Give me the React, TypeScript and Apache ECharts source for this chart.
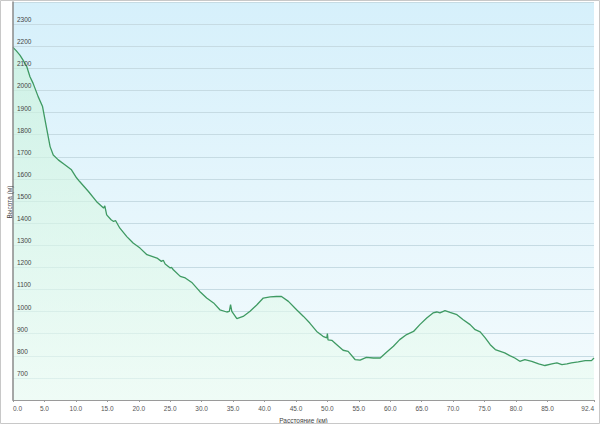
import React, { useEffect, useRef } from "react";
import * as echarts from "echarts";

const distanceKm = [
  0, 0.5, 1.1, 1.6, 2.2, 2.7, 3.2, 4.0, 4.7, 5.1, 5.5, 5.9, 6.4, 7.2, 8.3, 9.3, 10.1, 10.6, 12.0, 13.3,
  14.4, 14.6, 14.9, 15.6, 16.0, 16.3, 17.0, 18.1, 19.1, 20.2, 21.3, 22.9, 23.6, 23.9, 24.2, 25.0, 25.2,
  25.5, 26.6, 27.4, 28.5, 29.7, 30.8, 31.9, 32.9, 34.0, 34.4, 34.6, 34.8, 35.6, 36.6, 37.7, 38.8, 39.8,
  40.9, 41.9, 42.7, 43.8, 45.1, 46.2, 47.2, 48.3, 49.3, 49.9, 50.0, 50.1, 50.7, 51.5, 52.5, 53.3, 54.4,
  55.2, 56.2, 57.3, 58.4, 59.4, 60.5, 61.5, 62.6, 63.7, 64.7, 65.8, 66.8, 67.4, 67.9, 68.7, 69.5, 70.6,
  71.6, 72.7, 73.5, 74.3, 75.1, 75.9, 76.7, 77.5, 78.2, 79.0, 79.8, 80.6, 81.4, 82.5, 83.6, 84.6, 85.7,
  86.5, 87.3, 88.1, 88.8, 89.9, 91.0, 92.0, 92.4,
];

const elevationM = [
  2195, 2180, 2160, 2137, 2107, 2062, 2032, 1972, 1927, 1866, 1806, 1746, 1708, 1686, 1663, 1641, 1605,
  1588, 1543, 1497, 1468, 1478, 1437, 1415, 1407, 1412, 1377, 1339, 1310, 1287, 1257, 1242, 1227, 1232,
  1215, 1197, 1200, 1189, 1159, 1152, 1130, 1091, 1061, 1039, 1008, 998, 1001, 1031, 1001, 968, 978,
  1001, 1031, 1061, 1066, 1068, 1068, 1046, 1008, 978, 948, 910, 888, 881, 900, 872, 870, 850, 825, 820,
  783, 780, 793, 790, 790, 816, 843, 873, 896, 910, 941, 971, 994, 998, 994, 1004, 996, 986, 963, 941,
  918, 908, 881, 850, 828, 820, 813, 801, 790, 775, 783, 775, 763, 756, 763, 768, 760, 763, 768, 772,
  778, 778, 790,
];

const xTickValues = [0, 5, 10, 15, 20, 25, 30, 35, 40, 45, 50, 55, 60, 65, 70, 75, 80, 85, 92.4];

const xAxisTitle = "Расстояние (км)";
const yAxisTitle = "Высота (м)";

export default function App() {
  const ref = useRef<HTMLDivElement>(null);

  useEffect(() => {
    document.body.style.margin = "0";
    const chart = echarts.init(ref.current!, null, { renderer: "svg" });
    const data = distanceKm.map((d, i) => [d, elevationM[i]]);
    const fontFamily = "Liberation Sans, Arial, sans-serif";
    const yCommon = {
      type: "value",
      min: 600,
      max: 2400,
      interval: 100,
      position: "left",
    };
    chart.setOption({
      animation: false,
      backgroundColor: "#ffffff",
      graphic: [
        {
          type: "rect",
          shape: { x: 0.5, y: 0.5, width: 599, height: 423 },
          style: { fill: "none", stroke: "#c8c8c8", lineWidth: 1 },
          z: 100,
        },
        {
          type: "text",
          x: 9,
          y: 202,
          rotation: Math.PI / 2,
          style: {
            text: yAxisTitle,
            fontSize: 6.5,
            fill: "#444",
            fontFamily,
            align: "center",
            verticalAlign: "middle",
          },
          z: 100,
        },
      ],
      grid: {
        left: 13,
        right: 6,
        top: 2,
        bottom: 24,
        containLabel: false,
        outerBoundsMode: "none",
        show: true,
        borderWidth: 0,
        backgroundColor: new echarts.graphic.LinearGradient(0, 0, 0, 1, [
          { offset: 0, color: "#d6f0fb" },
          { offset: 1, color: "#f4fbfd" },
        ]),
      },
      xAxis: {
        type: "value",
        min: 0,
        max: 92.4,
        interval: 5,
        name: xAxisTitle,
        nameLocation: "middle",
        nameGap: 13,
        nameTextStyle: { fontSize: 6.5, color: "#444", fontFamily },
        axisLine: { show: true, onZero: false, lineStyle: { color: "#9a9a9a", width: 1 } },
        axisTick: { show: true, length: 2, customValues: xTickValues, lineStyle: { color: "#9a9a9a" } },
        axisLabel: {
          customValues: xTickValues,
          fontSize: 6.5,
          color: "#555",
          fontFamily,
          margin: 5,
          alignMinLabel: "left",
          alignMaxLabel: "right",
          formatter: (v: number) => v.toFixed(1),
        },
        splitLine: { show: false },
      },
      yAxis: [
        {
          ...yCommon,
          axisLine: { show: false },
          axisTick: { show: false },
          axisLabel: { show: false },
          splitLine: { show: true, lineStyle: { color: "#c6dbe3", width: 1.2 } },
        },
        {
          ...yCommon,
          z: 20,
          offset: 0,
          axisLine: { show: true, lineStyle: { color: "#8a8a8a", width: 1.5 } },
          axisTick: { show: false },
          splitLine: { show: false },
          axisLabel: {
            inside: true,
            margin: 4,
            fontSize: 6.5,
            color: "#444",
            fontFamily,
            verticalAlign: "bottom",
            padding: [0, 0, 1, 0],
            showMinLabel: false,
            showMaxLabel: false,
            formatter: (v: number) => String(v),
          },
        },
      ],
      series: [
        {
          type: "line",
          yAxisIndex: 0,
          data,
          showSymbol: false,
          symbol: "none",
          lineStyle: { color: "#3f9a63", width: 1.3 },
          areaStyle: {
            origin: "start",
            color: new echarts.graphic.LinearGradient(0, 0, 0, 1, [
              { offset: 0, color: "rgba(200,242,218,0.9)" },
              { offset: 1, color: "rgba(236,252,242,0.9)" },
            ]),
          },
          z: 3,
        },
      ],
    });
    return () => chart.dispose();
  }, []);

  return (
    <div
      ref={ref}
      style={{ position: "absolute", left: 0, top: 0, width: 600, height: 424 }}
    />
  );
}
